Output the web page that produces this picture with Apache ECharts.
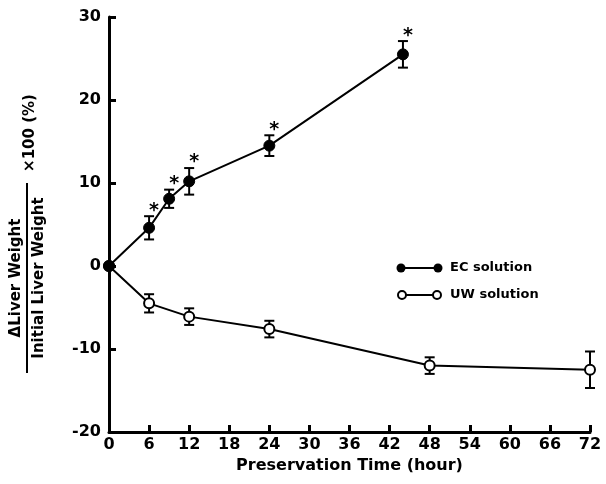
<!DOCTYPE html>
<html>
<head>
<meta charset="utf-8"/>
<title>Liver weight</title>
<script src="https://cdn.jsdelivr.net/npm/echarts@6/dist/echarts.min.js"></script>
<style>
  html, body { margin: 0; padding: 0; background: #fff; }
</style>
</head>
<body>
<div id="main" style="width: 606px;height: 484px;"></div>
<script type="text/javascript">

    // data
    var ecHours = [0, 6, 9, 12, 24, 44];
    var ecMean = [0, 4.6, 8.1, 10.2, 14.5, 25.5];
    var ecErr = [0, 1.4, 1.1, 1.6, 1.25, 1.6];
    var ecStar = [false, true, true, true, true, true];

    var uwHours = [0, 6, 12, 24, 48, 72];
    var uwMean = [0, -4.5, -6.1, -7.6, -12.0, -12.5];
    var uwErr = [0, 1.1, 1.0, 1.0, 1.0, 2.2];

    var xTicks = [0, 6, 12, 18, 24, 30, 36, 42, 48, 54, 60, 66, 72];
    var yTicks = [-20, -10, 0, 10, 20, 30];

    var fontFam = '"DejaVu Sans", "Liberation Sans", sans-serif';

    function pairs(xs, ys) {
        var out = [];
        for (var i = 0; i < xs.length; i++) out.push([xs[i], ys[i]]);
        return out;
    }

    function errRows(xs, ys, es, stars) {
        var out = [];
        for (var i = 0; i < xs.length; i++) {
            if (es[i] > 0) out.push([xs[i], ys[i], es[i], stars && stars[i] ? 1 : 0]);
        }
        return out;
    }

    function renderErr(params, api) {
        var x = api.value(0), y = api.value(1), e = api.value(2);
        var top = api.coord([x, y + e]);
        var bot = api.coord([x, y - e]);
        var cap = 5;
        var st = { stroke: '#000', lineWidth: 2 };
        var kids = [
            { type: 'line', shape: { x1: top[0], y1: top[1], x2: bot[0], y2: bot[1] }, style: st },
            { type: 'line', shape: { x1: top[0] - cap, y1: top[1], x2: top[0] + cap, y2: top[1] }, style: st },
            { type: 'line', shape: { x1: bot[0] - cap, y1: bot[1], x2: bot[0] + cap, y2: bot[1] }, style: st }
        ];
        if (api.value(3)) {
            kids.push({
                type: 'text',
                style: {
                    text: '*', x: top[0] + 5, y: top[1] + 4,
                    align: 'center', verticalAlign: 'bottom',
                    font: 'bold 19px ' + fontFam, fill: '#000'
                }
            });
        }
        return { type: 'group', children: kids };
    }

    var myChart = echarts.init(document.getElementById('main'));

    var axisText = { color: '#000', fontSize: 16, fontWeight: 'bold', fontFamily: fontFam };

    var option = {
        backgroundColor: '#fff',
        animation: false,
        grid: { left: 109, right: 16, top: 17, bottom: 52 },
        xAxis: {
            type: 'value', min: 0, max: 72, interval: 6,
            name: 'Preservation Time (hour)', nameLocation: 'middle', nameGap: 25,
            nameTextStyle: { color: '#000', fontSize: 16, fontWeight: 'bold', fontFamily: fontFam },
            axisLine: { onZero: false, lineStyle: { color: '#000', width: 3 } },
            axisTick: { inside: true, length: 7, lineStyle: { color: '#000', width: 3 } },
            axisLabel: Object.assign({ margin: 5, formatter: function (v) { return xTicks.indexOf(v) >= 0 ? String(v) : ''; } }, axisText),
            splitLine: { show: false }
        },
        yAxis: {
            type: 'value', min: -20, max: 30, interval: 10,
            axisLine: { show: true, onZero: false, lineStyle: { color: '#000', width: 3 } },
            axisTick: { show: true, inside: true, length: 7, lineStyle: { color: '#000', width: 3 } },
            axisLabel: Object.assign({ margin: 8, formatter: function (v) { return yTicks.indexOf(v) >= 0 ? (v < 0 ? '-' + Math.abs(v) : String(v)) : ''; } }, axisText),
            splitLine: { show: false }
        },
        series: [
            {
                name: 'EC err', type: 'custom', z: 1,
                renderItem: renderErr,
                data: errRows(ecHours, ecMean, ecErr, ecStar)
            },
            {
                name: 'UW err', type: 'custom', z: 1,
                renderItem: renderErr,
                data: errRows(uwHours, uwMean, uwErr, null)
            },
            {
                name: 'UW solution', type: 'line', z: 3,
                data: pairs(uwHours, uwMean),
                symbol: 'circle', symbolSize: 10,
                lineStyle: { color: '#000', width: 2 },
                itemStyle: { color: '#fff', borderColor: '#000', borderWidth: 2 }
            },
            {
                name: 'EC solution', type: 'line', z: 4,
                data: pairs(ecHours, ecMean),
                symbol: 'circle', symbolSize: 11,
                lineStyle: { color: '#000', width: 2 },
                itemStyle: { color: '#000', borderColor: '#000', borderWidth: 1 }
            }
        ],
        graphic: [
            // legend
            { type: 'line', shape: { x1: 400, y1: 268, x2: 439, y2: 268 }, style: { stroke: '#000', lineWidth: 2 } },
            { type: 'circle', shape: { cx: 401, cy: 268, r: 4.5 }, style: { fill: '#000' } },
            { type: 'circle', shape: { cx: 438, cy: 268, r: 4.5 }, style: { fill: '#000' } },
            { type: 'text', style: { text: 'EC solution', x: 450, y: 268, verticalAlign: 'middle', font: 'bold 13px ' + fontFam, fill: '#000' } },
            { type: 'line', shape: { x1: 400, y1: 295, x2: 439, y2: 295 }, style: { stroke: '#000', lineWidth: 2 } },
            { type: 'circle', z: 10, shape: { cx: 402, cy: 295, r: 4 }, style: { fill: '#fff', stroke: '#000', lineWidth: 2 } },
            { type: 'circle', z: 10, shape: { cx: 437, cy: 295, r: 4 }, style: { fill: '#fff', stroke: '#000', lineWidth: 2 } },
            { type: 'text', style: { text: 'UW solution', x: 450, y: 295, verticalAlign: 'middle', font: 'bold 13px ' + fontFam, fill: '#000' } },
            // y axis title as a fraction
            {
                type: 'group', x: 27, y: 278, rotation: Math.PI / 2,
                children: [
                    { type: 'text', style: { text: '\u0394Liver Weight', x: 0, y: -11, align: 'center', verticalAlign: 'middle', font: 'bold 15px ' + fontFam, fill: '#000' } },
                    { type: 'line', shape: { x1: -95, y1: 0, x2: 95, y2: 0 }, style: { stroke: '#000', lineWidth: 2 } },
                    { type: 'text', style: { text: 'Initial Liver Weight', x: 0, y: 12, align: 'center', verticalAlign: 'middle', font: 'bold 15px ' + fontFam, fill: '#000' } },
                    { type: 'text', style: { text: '\u00d7100 (%)', x: 145, y: 3, align: 'center', verticalAlign: 'middle', font: 'bold 15px ' + fontFam, fill: '#000' } }
                ]
            }
        ]
    };

    myChart.setOption(option);
</script>
</body>
</html>
